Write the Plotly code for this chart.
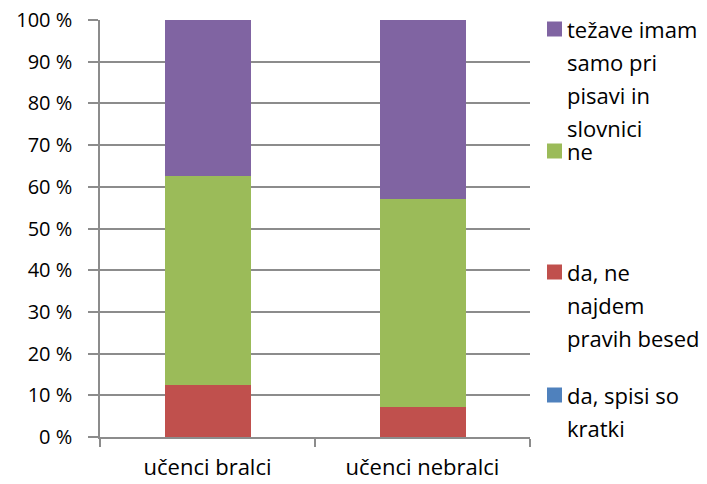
import plotly.graph_objects as go

categories = ["učenci bralci", "učenci nebralci"]

series_names = ["da, spisi so kratki", "da, ne najdem pravih besed", "ne",
                "težave imam samo pri pisavi in slovnici"]
spisi_kratki = [0, 0]
ne_najdem = [12.5, 7.1]
ne = [50.0, 50.0]
tezave = [37.5, 42.9]

colors = ["#4F81BD", "#C0504D", "#9BBB59", "#8064A2"]

# legend text wrapped like the original (top item first)
legend_lines = [
    ["težave imam", "samo pri", "pisavi in", "slovnici"],
    ["ne"],
    ["da, ne", "najdem", "pravih besed"],
    ["da, spisi so", "kratki"],
]
legend_colors = [colors[3], colors[2], colors[1], colors[0]]

FONT = "Open Sans"
FS = 22
OFF = 8  # page body margin
W, H = 707 - OFF, 484 - OFF
L, T = 100 - OFF, 20 - OFF
pw, ph = 430, 417
R, B = W - L - pw, H - T - ph

fig = go.Figure()
for name, vals, c in zip(series_names, [spisi_kratki, ne_najdem, ne, tezave], colors):
    fig.add_trace(go.Bar(x=categories, y=vals, name=name, marker_color=c,
                         marker_line_width=0, width=0.4, showlegend=False))

def px_to_paper(x, y):
    # screen pixels -> paper coords
    return (x - OFF - L) / pw, (T + ph - (y - OFF)) / ph

# manual legend
item_top = [29, 151, 272, 395]
line_gap = 33
for lines, c, y0 in zip(legend_lines, legend_colors, item_top):
    mx0, my0 = px_to_paper(547, y0 - 7.5)
    mx1, my1 = px_to_paper(562, y0 + 7.5)
    fig.add_shape(type="rect", xref="paper", yref="paper", x0=mx0, x1=mx1,
                  y0=my1, y1=my0, fillcolor=c, line_width=0)
    for i, txt in enumerate(lines):
        tx, ty = px_to_paper(565, y0 + i * line_gap)
        fig.add_annotation(xref="paper", yref="paper", x=tx, y=ty, text=txt,
                           showarrow=False, xanchor="left", yanchor="middle",
                           font=dict(family=FONT, size=FS, color="#000000"))

fig.update_layout(
    barmode="stack",
    width=W, height=H,
    margin=dict(l=L, r=R, t=T, b=B, autoexpand=False),
    plot_bgcolor="white", paper_bgcolor="white",
    font=dict(family=FONT, size=FS, color="#000000"),
)
fig.update_yaxes(range=[0, 100], dtick=10, ticksuffix=" %", showgrid=True,
                 gridcolor="#8c8c8c", gridwidth=1.5, showline=True,
                 linecolor="#8c8c8c", linewidth=1.5, ticks="outside",
                 ticklen=10, tickcolor="#8c8c8c", tickwidth=1.5,
                 ticklabelstandoff=12, zeroline=False, automargin=False,
                 ticklabeloverflow="allow", tickfont_size=20)
fig.update_xaxes(showline=True, linecolor="#8c8c8c", linewidth=1.5,
                 ticks="outside", tickson="boundaries", ticklen=8,
                 tickcolor="#8c8c8c", tickwidth=1.5, ticklabelstandoff=10,
                 automargin=False)

fig.write_html("out.html")
